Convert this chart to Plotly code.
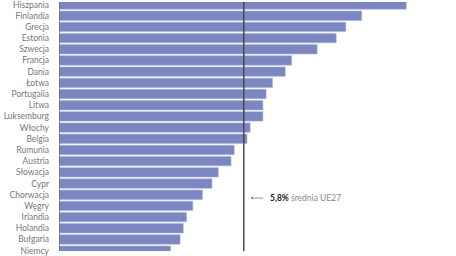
import plotly.graph_objects as go

countries = ["Hiszpania", "Finlandia", "Grecja", "Estonia", "Szwecja", "Francja", "Dania",
             "Łotwa", "Portugalia", "Litwa", "Luksemburg", "Włochy", "Belgia", "Rumunia",
             "Austria", "Słowacja", "Cypr", "Chorwacja", "Węgry", "Irlandia", "Holandia",
             "Bułgaria", "Niemcy"]
values = [10.9, 9.5, 9.0, 8.7, 8.1, 7.3, 7.1, 6.7, 6.5, 6.4, 6.4, 6.0, 5.9, 5.5,
          5.4, 5.0, 4.8, 4.5, 4.2, 4.0, 3.9, 3.8, 3.5]
eu_mean = 5.8
mean_value_label = "5,8%"
mean_text_label = "średnia UE27"

fig = go.Figure(go.Bar(
    x=values, y=countries, orientation="h",
    marker=dict(color="#7c87c1", line=dict(color="#a9b1dc", width=0.6)),
    hoverinfo="skip",
))

fig.add_shape(type="line", xref="x", yref="paper", x0=eu_mean, x1=eu_mean, y0=0, y1=1,
              line=dict(color="#4a4a4a", width=1.5), layer="above")
fig.add_shape(type="line", xref="x", yref="paper", x0=0, x1=0, y0=0, y1=1,
              line=dict(color="#555555", width=1), layer="above")

fig.add_annotation(x=6.02, y=17.3, ax=6.46, ay=17.3, xref="x", yref="y", axref="x", ayref="y",
                   showarrow=True, arrowhead=2, arrowsize=0.6, arrowwidth=0.7,
                   arrowcolor="#666666", text="")
fig.add_annotation(x=6.56, y=17.3, xref="x", yref="y", xanchor="left", yanchor="middle",
                   showarrow=False,
                   text=f"<b>{mean_value_label}</b> <span style='color:#888'>{mean_text_label}</span>",
                   font=dict(family="Lato", size=8.5, color="#222222"))

fig.update_layout(
    width=456, height=256,
    margin=dict(l=59, r=0, t=0, b=0),
    plot_bgcolor="white", paper_bgcolor="white",
    bargap=0.16, showlegend=False,
    xaxis=dict(range=[0, 12.46], showgrid=False, zeroline=False, showticklabels=False,
               showline=False, fixedrange=True),
    yaxis=dict(range=[22.03, -0.226], showgrid=False, zeroline=False, ticks="",
               ticklabelstandoff=9, tickfont=dict(family="Lato", size=8.5, color="#777777"),
               fixedrange=True),
)

fig.write_html("out.html", config={"displayModeBar": False})
